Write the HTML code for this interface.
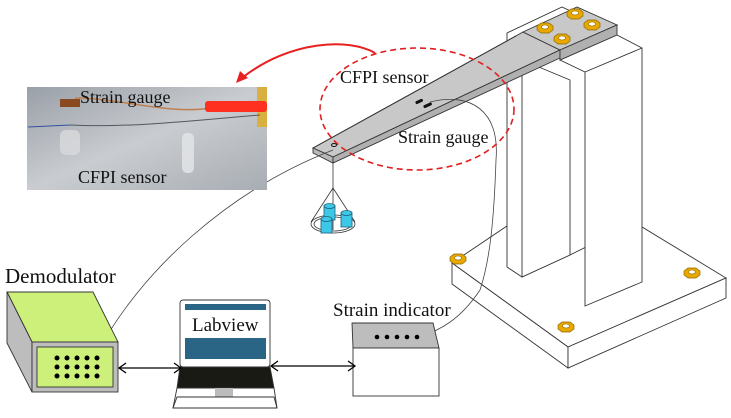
<!DOCTYPE html>
<html><head><meta charset="utf-8"><style>
html,body{margin:0;padding:0;background:#fff}
svg{display:block}
text{font-family:"Liberation Serif",serif;fill:#111}
</style></head><body>
<svg width="731" height="418" viewBox="0 0 731 418" xmlns="http://www.w3.org/2000/svg">
<defs>
<linearGradient id="al" x1="0" y1="0" x2="1" y2="1">
<stop offset="0" stop-color="#9aa0a8"/><stop offset="0.5" stop-color="#c9ccd0"/><stop offset="1" stop-color="#a8adb3"/>
</linearGradient>
<g id="nut"><polygon points="-8,-3 -4,-6 4,-6 8,-3 8,1 4,4 -4,4 -8,1" fill="#e8a800" stroke="#8a6a00" stroke-width="0.7"/><ellipse cx="0" cy="-2" rx="3.5" ry="2" fill="#fff" stroke="#8a6a00" stroke-width="0.6"/></g>
</defs>
<g stroke="#333" stroke-width="0.9" fill="#fff">
<!-- base plate -->
<polygon points="452,263 507,226 642,227 726,278 568,347"/>
<polygon points="452,263 568,347 568,368 452,284"/>
<polygon points="568,347 726,278 726,298 568,368"/>
<!-- left column -->
<polygon points="507,33 562,7 600,25 600,240 570,255 522,277 507,267"/>
<polygon points="522,60 570,80 570,255 522,277"/>
<!-- right column -->
<polygon points="560,60 617,35 642,48 642,282 585,306 585,72"/>
<line x1="585" y1="72" x2="642" y2="48"/>
</g>
<!-- beam -->
<g stroke="#333" stroke-width="0.9">
<polygon points="313,148 523,32 560,50 333,157" fill="#c8c8c8"/>
<polygon points="313,148 333,157 333,163 313,153" fill="#b8b8b8"/>
<polygon points="333,157 560,50 560,58 333,163" fill="#b0b0b0"/>
<polygon points="523,32 577,7 617,25 560,50" fill="#c8c8c8"/>
<polygon points="560,50 617,25 617,35 560,60" fill="#b0b0b0"/>
<line x1="313" y1="148" x2="516" y2="36" />
</g>
<use href="#nut" x="545" y="29"/><use href="#nut" x="575" y="15"/><use href="#nut" x="592" y="26"/><use href="#nut" x="562" y="40"/>
<use href="#nut" x="458" y="260"/><use href="#nut" x="692" y="274"/><use href="#nut" x="566" y="328"/>
<!-- gauges -->
<rect x="415" y="100" width="8" height="3" rx="1.5" transform="rotate(-25 419 101)" fill="#111"/>
<rect x="423" y="104" width="9" height="3" rx="1.5" transform="rotate(-25 427 105)" fill="#111"/>
<ellipse cx="334" cy="145" rx="2.5" ry="1.5" fill="none" stroke="#111"/>
<!-- hanger -->
<g stroke="#333" stroke-width="0.8" fill="none">
<line x1="333" y1="163" x2="333" y2="188"/>
<line x1="333" y1="188" x2="311" y2="222"/><line x1="333" y1="188" x2="355" y2="222"/><line x1="333" y1="188" x2="333" y2="230"/>
<ellipse cx="333" cy="224" rx="22" ry="9"/><ellipse cx="333" cy="224" rx="19" ry="7"/>
</g>
<g stroke="#1b5f78" stroke-width="0.8" fill="#3ec8e8">
<rect x="324" y="206" width="11" height="14"/><ellipse cx="329.5" cy="206" rx="5.5" ry="2.5"/>
<rect x="341" y="213" width="11" height="14"/><ellipse cx="346.5" cy="213" rx="5.5" ry="2.5"/>
<rect x="321" y="219" width="11" height="14"/><ellipse cx="326.5" cy="219" rx="5.5" ry="2.5"/>
</g>
<!-- wires -->
<path d="M333,150 C230,190 140,270 95,357" fill="none" stroke="#444" stroke-width="0.8"/>
<path d="M430,102 C470,92 500,110 496,160 C494,220 490,260 480,290 C460,320 440,330 420,337" fill="none" stroke="#444" stroke-width="0.8"/>
<!-- ellipse & arrow -->
<ellipse cx="417" cy="109" rx="97" ry="61" fill="none" stroke="#e02020" stroke-width="1.6" stroke-dasharray="6,4"/>
<path d="M375,53 C350,38 290,40 242,78" fill="none" stroke="#e82020" stroke-width="2"/>
<polygon points="236,83 240,71 248,78" fill="#e82020"/>
<!-- photo -->
<rect x="27" y="87" width="240" height="103" fill="url(#al)"/>
<rect x="257" y="87" width="10" height="40" fill="#d9b040"/>
<path d="M70,125 C130,128 200,120 260,115" stroke="#505860" stroke-width="1" fill="none"/>
<path d="M70,125 L28,127" stroke="#3050a0" stroke-width="1" fill="none"/>
<path d="M75,98 C120,98 170,115 210,108" stroke="#c08050" stroke-width="1.5" fill="none"/>
<rect x="60" y="99" width="20" height="8" fill="#8a4a20"/>
<rect x="205" y="101" width="62" height="11" rx="3" fill="#ff3020"/>
<rect x="60" y="130" width="20" height="25" rx="6" fill="#d8dadc" opacity="0.8"/>
<rect x="182" y="133" width="12" height="40" rx="5" fill="#e0e2e4" opacity="0.9"/>
<text x="80" y="103" font-size="18">Strain gauge</text>
<text x="78" y="183" font-size="18">CFPI sensor</text>
<text x="340" y="83" font-size="18">CFPI sensor</text>
<text x="398" y="143" font-size="18">Strain gauge</text>
<!-- demodulator -->
<g stroke="#333" stroke-width="0.9">
<polygon points="7,292 93,292 118,342 32,342" fill="#ccf07a"/>
<polygon points="7,292 32,342 32,392 7,343" fill="#bdbdbd"/>
<rect x="32" y="342" width="86" height="50" fill="#bdbdbd"/>
<rect x="37" y="347" width="76" height="40" fill="#ccf07a"/>
</g>
<g fill="#000">
<circle cx="57" cy="358" r="2.5"/><circle cx="67" cy="358" r="2.5"/><circle cx="77" cy="358" r="2.5"/><circle cx="87" cy="358" r="2.5"/><circle cx="97" cy="358" r="2.5"/>
<circle cx="57" cy="367" r="2.5"/><circle cx="67" cy="367" r="2.5"/><circle cx="77" cy="367" r="2.5"/><circle cx="87" cy="367" r="2.5"/><circle cx="97" cy="367" r="2.5"/>
<circle cx="57" cy="376" r="2.5"/><circle cx="67" cy="376" r="2.5"/><circle cx="77" cy="376" r="2.5"/><circle cx="87" cy="376" r="2.5"/><circle cx="97" cy="376" r="2.5"/>
</g>
<text x="5" y="283" font-size="21">Demodulator</text>
<!-- laptop -->
<g stroke="#333" stroke-width="0.9">
<rect x="180" y="300" width="90" height="67" rx="3" fill="#fff"/>
<rect x="185" y="304" width="81" height="6" fill="#2a6585" stroke="none"/>
<rect x="185" y="338" width="81" height="21" fill="#2a6585" stroke="none"/>
<polygon points="180,367 270,367 274,388 177,388" fill="#1a1a14"/>
<rect x="215" y="388" width="18" height="9" fill="#bbb" stroke="none"/>
<polygon points="177,397 274,397 277,408 173,408" fill="#fff"/>
<line x1="177" y1="388" x2="173" y2="408"/><line x1="274" y1="388" x2="277" y2="408"/>
</g>
<text x="192" y="331" font-size="19">Labview</text>
<!-- strain indicator -->
<g stroke="#333" stroke-width="0.9">
<polygon points="352,323 433,323 439,348 353,348" fill="#bdbdbd"/>
<rect x="353" y="348" width="86" height="48" fill="#fff"/>
</g>
<g fill="#000"><circle cx="377" cy="337" r="2.3"/><circle cx="387" cy="337" r="2.3"/><circle cx="397" cy="337" r="2.3"/><circle cx="407" cy="337" r="2.3"/><circle cx="417" cy="337" r="2.3"/></g>
<text x="333" y="316" font-size="19">Strain indicator</text>
<!-- arrows -->
<g stroke="#000" stroke-width="1.3" fill="none">
<line x1="119" y1="368" x2="181" y2="368"/>
<polyline points="126,363 119,368 126,373"/><polyline points="174,363 181,368 174,373"/>
<line x1="271" y1="366" x2="355" y2="366"/>
<polyline points="278,361 271,366 278,371"/><polyline points="348,361 355,366 348,371"/>
</g>
</svg>
</body></html>
